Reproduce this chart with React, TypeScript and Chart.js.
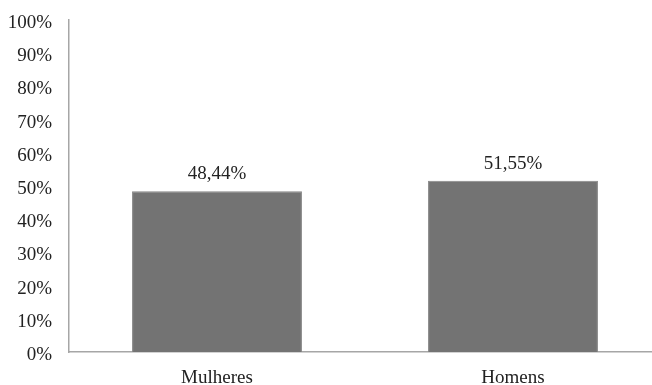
import React, { useEffect, useRef } from "react";
import { Chart, registerables } from "chart.js";

Chart.register(...registerables);

const categories = ["Mulheres", "Homens"];
const values = [48.44, 51.55];
const valueLabels = ["48,44%", "51,55%"];
const yTicks = [0, 10, 20, 30, 40, 50, 60, 70, 80, 90, 100];

const FONT = "'Liberation Serif', 'Times New Roman', serif";

const valueLabelPlugin = {
  id: "valueLabels",
  afterDatasetsDraw(chart: any) {
    const ctx = chart.ctx;
    const meta = chart.getDatasetMeta(0);
    ctx.save();
    ctx.font = `19px ${FONT}`;
    ctx.fillStyle = "#222222";
    ctx.textAlign = "center";
    ctx.textBaseline = "alphabetic";
    meta.data.forEach((bar: any, i: number) => {
      ctx.fillText(valueLabels[i], bar.x, bar.y - 12);
    });
    ctx.restore();
  },
};

export default function App() {
  const ref = useRef<HTMLCanvasElement>(null);
  useEffect(() => {
    document.body.style.margin = "0";
    const chart = new Chart(ref.current!, {
      type: "bar",
      data: {
        labels: categories,
        datasets: [
          {
            data: values,
            backgroundColor: "#737373",
            borderColor: "#858585",
            borderWidth: 1,
            barPercentage: 0.574,
            categoryPercentage: 1,
          },
        ],
      },
      options: {
        responsive: false,
        animation: false,
        layout: { padding: 0 },
        plugins: { legend: { display: false }, tooltip: { enabled: false } },
        scales: {
          x: {
            grid: { display: false, drawTicks: false },
            border: { display: true, color: "#a6a6a6", width: 1.5 },
            afterFit: (axis: any) => {
              axis.height = 33;
              axis.paddingLeft = 0;
              axis.paddingRight = 0;
            },
            ticks: {
              color: "#222222",
              font: { family: FONT, size: 19 },
              padding: 15,
            },
          },
          y: {
            min: 0,
            max: 100,
            afterBuildTicks: (axis: any) => {
              axis.ticks = yTicks.map((v) => ({ value: v }));
            },
            afterFit: (axis: any) => {
              axis.width = 69;
              axis.paddingTop = 20;
              axis.paddingBottom = 0;
            },
            grid: { display: false, drawTicks: false },
            border: { display: true, color: "#a6a6a6", width: 1.5 },
            ticks: {
              color: "#222222",
              font: { family: FONT, size: 19 },
              padding: 17,
              labelOffset: 3,
              callback: (v: any) => `${v}%`,
            },
          },
        },
      },
      plugins: [valueLabelPlugin],
    });
    return () => chart.destroy();
  }, []);
  return (
    <div style={{ width: 652, height: 385, overflow: "hidden" }}>
      <canvas ref={ref} width={661} height={385} style={{ display: "block" }} />
    </div>
  );
}
